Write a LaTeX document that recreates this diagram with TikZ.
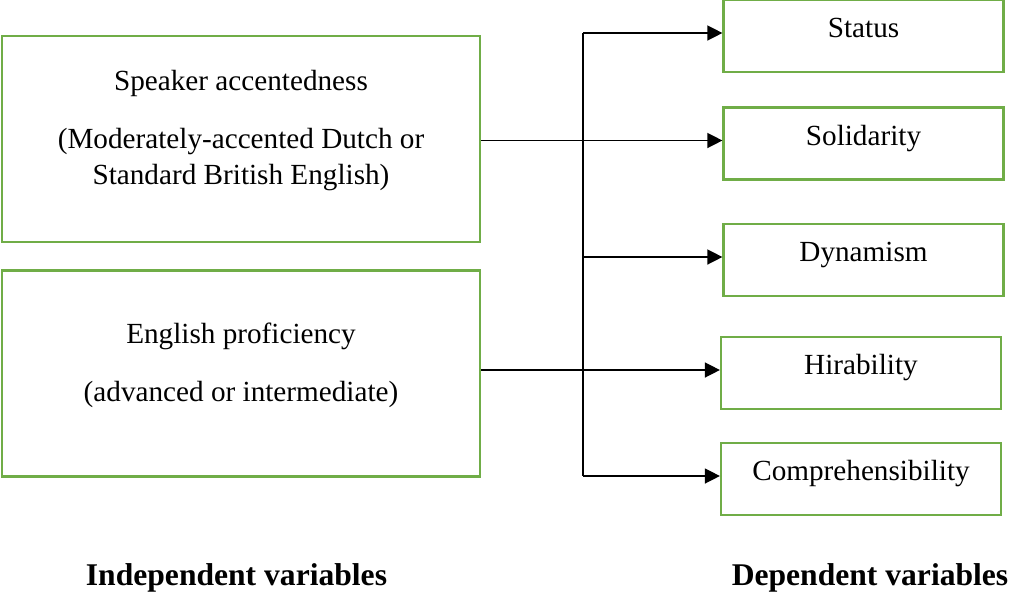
\documentclass[tikz,border=0pt]{standalone}
\usepackage{fontspec}
\setmainfont{Liberation Serif}
\usetikzlibrary{arrows.meta}
\definecolor{boxgreen}{RGB}{112,173,71}

\begin{document}
\begin{tikzpicture}[x=0.5pt,y=-0.5pt,
    font=\fontsize{14.6}{18}\selectfont,
    ivbox/.style={draw=boxgreen, line width=1.1pt, minimum width=239pt, minimum height=103pt, inner sep=0pt},
    dvbox/.style={draw=boxgreen, line width=1.1pt, minimum width=140pt, minimum height=36pt, inner sep=0pt, text height=0.6em, text depth=0.45em},
    caption/.style={font=\fontsize{15.8}{19}\selectfont\bfseries},
    link/.style={line width=0.7pt},
    arrowlink/.style={link, -{Triangle[length=7.5pt,width=7.5pt]}}
]
\useasboundingbox (0,0) rectangle (1011,595);

% Independent variables
\node[ivbox] (accent) at (241,139) {};
\node[align=center] (accenttxt) at (241,131) {Speaker accentedness\\[11pt](Moderately-accented Dutch or\\Standard British English)};
\node[ivbox] (prof) at (241,373.5) {};
\node[align=center] (proftxt) at (241,365) {English proficiency\\[11pt](advanced or intermediate)};

% Dependent variables
\foreach \nm/\x/\y/\txt in {status/863.5/36/Status, solid/863.5/143.5/Solidarity, dyn/863.5/260/Dynamism, hir/861/373/Hirability, comp/861/479/Comprehensibility}
    \node[dvbox] (\nm) at (\x,\y) {\txt};

% Arrow ends, slightly above box centres
\foreach \nm in {status,solid,dyn,hir,comp}
    \coordinate (\nm-in) at ([yshift=1.5pt]\nm.west);

% Connectors
\coordinate (bus) at (583,0);
\draw[link] (bus |- status-in) -- (bus |- comp-in);
\draw[arrowlink] (accent.east |- solid-in) -- (solid-in);
\draw[arrowlink] (prof.east |- hir-in) -- (hir-in);
\foreach \nm in {status,dyn,comp}
    \draw[arrowlink] (bus |- \nm-in) -- (\nm-in);

% Captions
\node[caption] (ivlabel) at (236.5,578) {Independent variables};
\node[caption] (dvlabel) at (870,578) {Dependent variables};

\end{tikzpicture}
\end{document}
